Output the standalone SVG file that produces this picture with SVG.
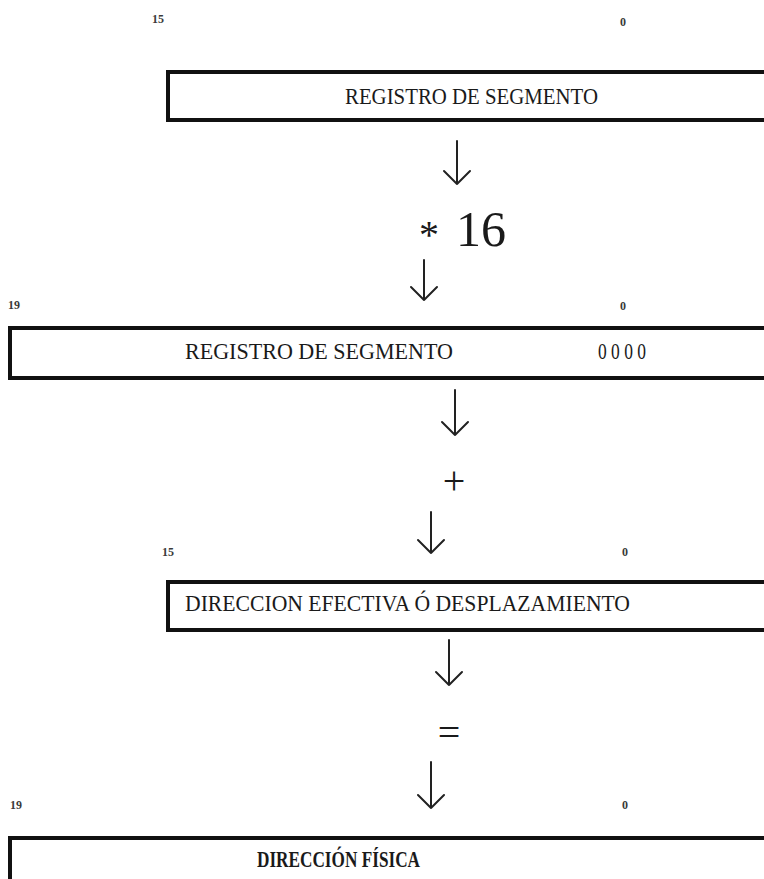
<svg xmlns="http://www.w3.org/2000/svg" width="764" height="879" viewBox="0 0 764 879">
  <style>
    .box { fill: #ffffff; stroke: #111111; stroke-width: 4; }
    .lbl { font-family: "Liberation Serif", "Times New Roman", serif; fill: #1a1a1a; font-size: 23px; }
    .bit { font-family: "Liberation Serif", "Times New Roman", serif; fill: #3a3a3a; font-size: 12px; font-weight: bold; }
    .op  { font-family: "Liberation Serif", "Times New Roman", serif; fill: #1a1a1a; }
    .arrow { fill: none; stroke: #222222; stroke-width: 2; stroke-linecap: round; stroke-linejoin: round; }
  </style>
  <rect width="764" height="879" fill="#ffffff"/>

  <!-- 16-bit segment register -->
  <g id="seg-register">
    <text class="bit" x="152" y="23">15</text>
    <text class="bit" x="620" y="26">0</text>
    <rect class="box" x="168" y="72" width="620" height="48"/>
    <text class="lbl" x="345" y="104" textLength="253" lengthAdjust="spacingAndGlyphs">REGISTRO DE SEGMENTO</text>
  </g>

  <!-- multiply by 16 -->
  <g id="op-mul">
    <text class="op" y="246" font-size="50"><tspan x="419" y="248" font-size="40">*</tspan><tspan x="456" y="246">16</tspan></text>
  </g>

  <!-- 20-bit shifted segment -->
  <g id="seg-shifted">
    <text class="bit" x="8" y="309">19</text>
    <text class="bit" x="620" y="310">0</text>
    <rect class="box" x="10" y="328" width="780" height="50"/>
    <text class="lbl" x="185" y="359" textLength="268" lengthAdjust="spacingAndGlyphs">REGISTRO DE SEGMENTO</text>
    <text class="lbl" x="598" y="359" textLength="48" lengthAdjust="spacingAndGlyphs">0 0 0 0</text>
  </g>

  <!-- addition -->
  <g id="op-add">
    <text class="op" x="454" y="494" font-size="40" text-anchor="middle">+</text>
  </g>

  <!-- 16-bit offset -->
  <g id="offset">
    <text class="bit" x="162" y="556">15</text>
    <text class="bit" x="622" y="556">0</text>
    <rect class="box" x="168" y="582" width="620" height="48"/>
    <text class="lbl" x="185" y="611" textLength="445" lengthAdjust="spacingAndGlyphs">DIRECCION EFECTIVA Ó DESPLAZAMIENTO</text>
  </g>

  <!-- equals -->
  <g id="op-eq">
    <text class="op" x="449" y="746" font-size="40" text-anchor="middle">=</text>
  </g>

  <!-- 20-bit physical address -->
  <g id="physical">
    <text class="bit" x="10" y="809">19</text>
    <text class="bit" x="622" y="809">0</text>
    <rect class="box" x="10" y="838" width="780" height="60"/>
    <text class="lbl" x="257" y="867" font-weight="bold" textLength="163" lengthAdjust="spacingAndGlyphs">DIRECCIÓN FÍSICA</text>
  </g>

  <!-- flow arrows -->
  <g id="connectors">
    <path class="arrow" d="M457 141 V184 M444 171 L457 184 L470 171"/>
    <path class="arrow" d="M424 260 V300 M411 287 L424 300 L437 287"/>
    <path class="arrow" d="M455 390 V435 M442 422 L455 435 L468 422"/>
    <path class="arrow" d="M431 512 V553 M418 540 L431 553 L444 540"/>
    <path class="arrow" d="M449 640 V685 M436 672 L449 685 L462 672"/>
    <path class="arrow" d="M431 762 V808 M418 795 L431 808 L444 795"/>
  </g>
</svg>
